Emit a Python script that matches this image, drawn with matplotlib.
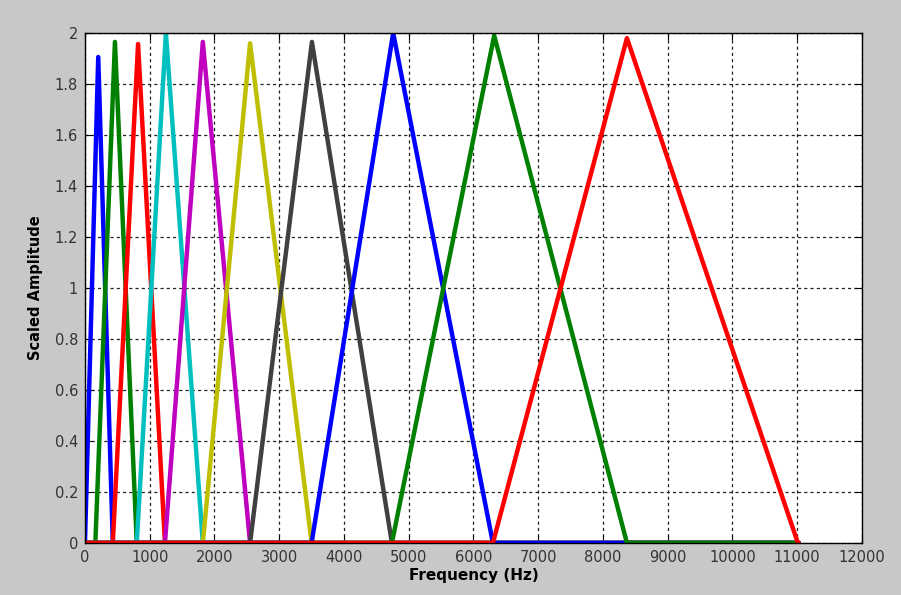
import numpy as np
import matplotlib
matplotlib.use("Agg")
import matplotlib.pyplot as plt

# triangular filter bank: start, peak and end frequency (Hz) and peak height
starts = [0, 160, 430, 800, 1235, 1820, 2550, 3500, 4740, 6300]
peaks = [205, 463, 820, 1250, 1820, 2550, 3505, 4760, 6320, 8370]
ends = [430, 800, 1235, 1820, 2550, 3500, 4740, 6300, 8370, 11010]
heights = [1.906, 1.965, 1.957, 2.0, 1.965, 1.96, 1.965, 2.0, 1.99, 1.98]
colors = ['#0000ff', '#008000', '#ff0000', '#00bfbf', '#bf00bf',
          '#bfbf00', '#404040', '#0000ff', '#008000', '#ff0000']
f_max = 11025

fig = plt.figure(figsize=(9.01, 5.95), dpi=100)
fig.patch.set_facecolor('#c8c8c8')
ax = fig.add_axes([0.0943, 0.0874, 0.8624, 0.8571])

for s, p, e, h, c in zip(starts, peaks, ends, heights, colors):
    xs = [0, s, p, e, f_max]
    ys = [0, 0, h, 0, 0]
    ax.plot(xs, ys, color=c, lw=3.2, solid_joinstyle='round',
            solid_capstyle='round')

ax.set_xlim(0, 12000)
ax.set_ylim(0, 2)
ax.set_xticks(np.arange(0, 12001, 1000))
ax.set_yticks(np.arange(0, 2.01, 0.2))
ax.set_yticklabels(['0', '0.2', '0.4', '0.6', '0.8', '1', '1.2', '1.4', '1.6', '1.8', '2'])
ax.grid(True, color='#222222', linestyle=(0, (2.5, 2.5)), linewidth=0.9)
ax.tick_params(direction='in', top=True, right=True, length=5, labelsize=10.5,
               labelcolor='#333333', pad=5)
for sp in ax.spines.values():
    sp.set_linewidth(1)
ax.set_xlabel('Frequency (Hz)', fontweight='bold', fontsize=11, labelpad=2)
ax.set_ylabel('Scaled Amplitude', fontweight='bold', fontsize=10.5, labelpad=8)

fig.savefig('out.png', dpi=100, facecolor=fig.get_facecolor())
